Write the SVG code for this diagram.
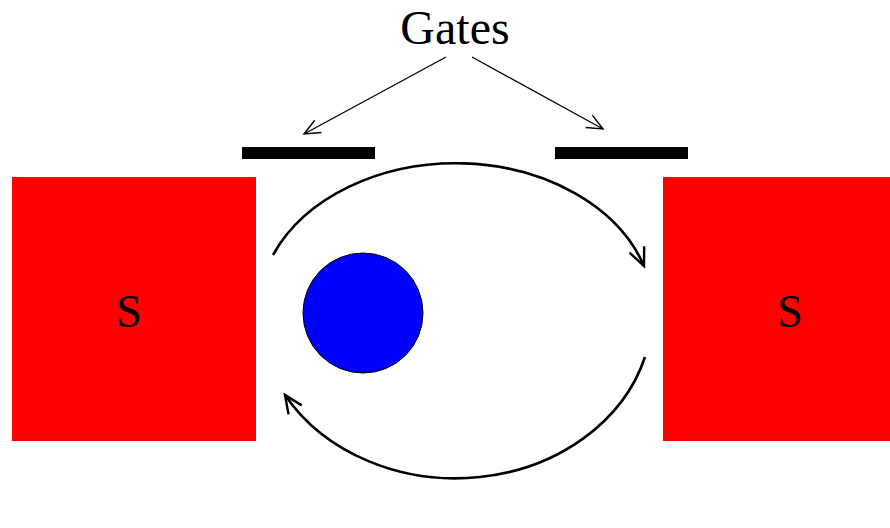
<svg xmlns="http://www.w3.org/2000/svg" width="890" height="528" viewBox="0 0 890 528">
<style>
.lbl{font-family:"Liberation Serif","DejaVu Serif",serif;fill:#000}
.red{fill:#ff0000}
.gate{fill:#000}
.arc{fill:none;stroke:#000;stroke-width:2.6}
.thin{fill:none;stroke:#000;stroke-width:1.3}
</style>
<defs>
<marker id="ah" viewBox="0 0 20 20" refX="18" refY="10" markerWidth="20" markerHeight="20" markerUnits="userSpaceOnUse" orient="auto">
<path d="M2,3 L18,10 L2,17" fill="none" stroke="#000" stroke-width="1.4"/>
</marker>
<marker id="ahb" viewBox="0 0 24 24" refX="21" refY="12" markerWidth="24" markerHeight="24" markerUnits="userSpaceOnUse" orient="auto">
<path d="M3,4 L21,12 L3,20" fill="none" stroke="#000" stroke-width="2.4"/>
</marker>
</defs>
<rect width="890" height="528" fill="#fff"/>
<g id="left-s">
<rect class="red" x="12" y="177" width="244" height="264"/>
<text class="lbl" x="129" y="327" font-size="46" text-anchor="middle">S</text>
</g>
<g id="right-s">
<rect class="red" x="663" y="177" width="227" height="264"/>
<text class="lbl" x="790" y="327" font-size="46" text-anchor="middle">S</text>
</g>
<g id="gate-left"><rect class="gate" x="242" y="147" width="133" height="12"/></g>
<g id="gate-right"><rect class="gate" x="555" y="147" width="133" height="12"/></g>
<g id="dot"><circle cx="363" cy="313" r="60" fill="#0000ff" stroke="#000" stroke-width="1"/></g>
<g id="gates-label"><text class="lbl" x="455" y="44" font-size="48" text-anchor="middle">Gates</text></g>
<g id="connectors">
<path class="thin" d="M446,57 L304,134" marker-end="url(#ah)"/>
<path class="thin" d="M472,57 L603,129" marker-end="url(#ah)"/>
<path class="arc" d="M273,255 A198 149 0 0 1 644,266" marker-end="url(#ahb)"/>
<path class="arc" d="M645,357 A197 167 0 0 1 285,395" marker-end="url(#ahb)"/>
</g>
</svg>
